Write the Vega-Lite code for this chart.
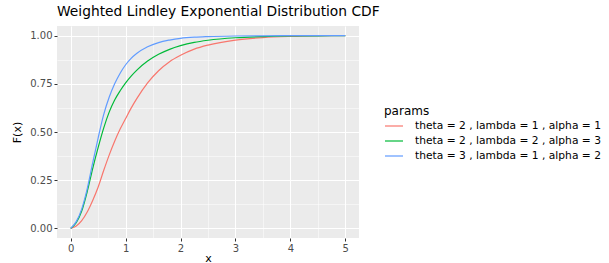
{
  "$schema": "https://vega.github.io/schema/vega-lite/v6.json",
  "width": 302,
  "height": 212,
  "autosize": {"type": "none"},
  "padding": {"left": 57, "top": 26, "right": 250, "bottom": 25},
  "background": "white",
  "config": {
    "font": "DejaVu Sans",
    "view": {"fill": "#EBEBEB", "stroke": null}
  },
  "title": {
    "text": "Weighted Lindley Exponential Distribution CDF",
    "anchor": "start",
    "frame": "group",
    "fontSize": 13.8,
    "fontWeight": "normal",
    "color": "black",
    "offset": 7
  },
  "data": {
    "values": [
      {"x": 0, "F": 0, "params": "theta = 2 , lambda = 1 , alpha = 1"},
      {"x": 0.1, "F": 0.012, "params": "theta = 2 , lambda = 1 , alpha = 1"},
      {"x": 0.2, "F": 0.04, "params": "theta = 2 , lambda = 1 , alpha = 1"},
      {"x": 0.3, "F": 0.085, "params": "theta = 2 , lambda = 1 , alpha = 1"},
      {"x": 0.4, "F": 0.145, "params": "theta = 2 , lambda = 1 , alpha = 1"},
      {"x": 0.5, "F": 0.215, "params": "theta = 2 , lambda = 1 , alpha = 1"},
      {"x": 0.6, "F": 0.3, "params": "theta = 2 , lambda = 1 , alpha = 1"},
      {"x": 0.7, "F": 0.38, "params": "theta = 2 , lambda = 1 , alpha = 1"},
      {"x": 0.8, "F": 0.452, "params": "theta = 2 , lambda = 1 , alpha = 1"},
      {"x": 0.9, "F": 0.515, "params": "theta = 2 , lambda = 1 , alpha = 1"},
      {"x": 1.0, "F": 0.57, "params": "theta = 2 , lambda = 1 , alpha = 1"},
      {"x": 1.1, "F": 0.624, "params": "theta = 2 , lambda = 1 , alpha = 1"},
      {"x": 1.2, "F": 0.672, "params": "theta = 2 , lambda = 1 , alpha = 1"},
      {"x": 1.4, "F": 0.755, "params": "theta = 2 , lambda = 1 , alpha = 1"},
      {"x": 1.6, "F": 0.818, "params": "theta = 2 , lambda = 1 , alpha = 1"},
      {"x": 1.8, "F": 0.865, "params": "theta = 2 , lambda = 1 , alpha = 1"},
      {"x": 2.0, "F": 0.898, "params": "theta = 2 , lambda = 1 , alpha = 1"},
      {"x": 2.25, "F": 0.93, "params": "theta = 2 , lambda = 1 , alpha = 1"},
      {"x": 2.5, "F": 0.951, "params": "theta = 2 , lambda = 1 , alpha = 1"},
      {"x": 3.0, "F": 0.977, "params": "theta = 2 , lambda = 1 , alpha = 1"},
      {"x": 3.5, "F": 0.99, "params": "theta = 2 , lambda = 1 , alpha = 1"},
      {"x": 4.0, "F": 0.996, "params": "theta = 2 , lambda = 1 , alpha = 1"},
      {"x": 4.5, "F": 0.999, "params": "theta = 2 , lambda = 1 , alpha = 1"},
      {"x": 5.0, "F": 1.0, "params": "theta = 2 , lambda = 1 , alpha = 1"},
      {"x": 0, "F": 0, "params": "theta = 2 , lambda = 2 , alpha = 3"},
      {"x": 0.1, "F": 0.03, "params": "theta = 2 , lambda = 2 , alpha = 3"},
      {"x": 0.2, "F": 0.09, "params": "theta = 2 , lambda = 2 , alpha = 3"},
      {"x": 0.3, "F": 0.19, "params": "theta = 2 , lambda = 2 , alpha = 3"},
      {"x": 0.4, "F": 0.31, "params": "theta = 2 , lambda = 2 , alpha = 3"},
      {"x": 0.5, "F": 0.42, "params": "theta = 2 , lambda = 2 , alpha = 3"},
      {"x": 0.6, "F": 0.52, "params": "theta = 2 , lambda = 2 , alpha = 3"},
      {"x": 0.7, "F": 0.603, "params": "theta = 2 , lambda = 2 , alpha = 3"},
      {"x": 0.8, "F": 0.666, "params": "theta = 2 , lambda = 2 , alpha = 3"},
      {"x": 0.9, "F": 0.714, "params": "theta = 2 , lambda = 2 , alpha = 3"},
      {"x": 1.0, "F": 0.755, "params": "theta = 2 , lambda = 2 , alpha = 3"},
      {"x": 1.1, "F": 0.79, "params": "theta = 2 , lambda = 2 , alpha = 3"},
      {"x": 1.2, "F": 0.82, "params": "theta = 2 , lambda = 2 , alpha = 3"},
      {"x": 1.4, "F": 0.868, "params": "theta = 2 , lambda = 2 , alpha = 3"},
      {"x": 1.6, "F": 0.903, "params": "theta = 2 , lambda = 2 , alpha = 3"},
      {"x": 1.8, "F": 0.929, "params": "theta = 2 , lambda = 2 , alpha = 3"},
      {"x": 2.0, "F": 0.948, "params": "theta = 2 , lambda = 2 , alpha = 3"},
      {"x": 2.25, "F": 0.965, "params": "theta = 2 , lambda = 2 , alpha = 3"},
      {"x": 2.5, "F": 0.976, "params": "theta = 2 , lambda = 2 , alpha = 3"},
      {"x": 3.0, "F": 0.989, "params": "theta = 2 , lambda = 2 , alpha = 3"},
      {"x": 3.5, "F": 0.995, "params": "theta = 2 , lambda = 2 , alpha = 3"},
      {"x": 4.0, "F": 0.998, "params": "theta = 2 , lambda = 2 , alpha = 3"},
      {"x": 4.5, "F": 0.999, "params": "theta = 2 , lambda = 2 , alpha = 3"},
      {"x": 5.0, "F": 1.0, "params": "theta = 2 , lambda = 2 , alpha = 3"},
      {"x": 0, "F": 0, "params": "theta = 3 , lambda = 1 , alpha = 2"},
      {"x": 0.1, "F": 0.035, "params": "theta = 3 , lambda = 1 , alpha = 2"},
      {"x": 0.2, "F": 0.1, "params": "theta = 3 , lambda = 1 , alpha = 2"},
      {"x": 0.3, "F": 0.205, "params": "theta = 3 , lambda = 1 , alpha = 2"},
      {"x": 0.4, "F": 0.34, "params": "theta = 3 , lambda = 1 , alpha = 2"},
      {"x": 0.5, "F": 0.47, "params": "theta = 3 , lambda = 1 , alpha = 2"},
      {"x": 0.6, "F": 0.59, "params": "theta = 3 , lambda = 1 , alpha = 2"},
      {"x": 0.7, "F": 0.68, "params": "theta = 3 , lambda = 1 , alpha = 2"},
      {"x": 0.8, "F": 0.75, "params": "theta = 3 , lambda = 1 , alpha = 2"},
      {"x": 0.9, "F": 0.805, "params": "theta = 3 , lambda = 1 , alpha = 2"},
      {"x": 1.0, "F": 0.849, "params": "theta = 3 , lambda = 1 , alpha = 2"},
      {"x": 1.1, "F": 0.882, "params": "theta = 3 , lambda = 1 , alpha = 2"},
      {"x": 1.2, "F": 0.907, "params": "theta = 3 , lambda = 1 , alpha = 2"},
      {"x": 1.4, "F": 0.942, "params": "theta = 3 , lambda = 1 , alpha = 2"},
      {"x": 1.6, "F": 0.964, "params": "theta = 3 , lambda = 1 , alpha = 2"},
      {"x": 1.8, "F": 0.977, "params": "theta = 3 , lambda = 1 , alpha = 2"},
      {"x": 2.0, "F": 0.986, "params": "theta = 3 , lambda = 1 , alpha = 2"},
      {"x": 2.25, "F": 0.992, "params": "theta = 3 , lambda = 1 , alpha = 2"},
      {"x": 2.5, "F": 0.995, "params": "theta = 3 , lambda = 1 , alpha = 2"},
      {"x": 3.0, "F": 0.998, "params": "theta = 3 , lambda = 1 , alpha = 2"},
      {"x": 3.5, "F": 0.999, "params": "theta = 3 , lambda = 1 , alpha = 2"},
      {"x": 4.0, "F": 1.0, "params": "theta = 3 , lambda = 1 , alpha = 2"},
      {"x": 4.5, "F": 1.0, "params": "theta = 3 , lambda = 1 , alpha = 2"},
      {"x": 5.0, "F": 1.0, "params": "theta = 3 , lambda = 1 , alpha = 2"}
    ]
  },
  "mark": {"type": "line", "interpolate": "monotone", "strokeWidth": 1.2},
  "encoding": {
    "x": {
      "field": "x",
      "type": "quantitative",
      "scale": {"domain": [-0.25, 5.25], "nice": false, "zero": false},
      "axis": {
        "values": [0, 0.5, 1, 1.5, 2, 2.5, 3, 3.5, 4, 4.5, 5],
        "format": ".0f",
        "labelExpr": "datum.value % 1 === 0 ? datum.label : ''",
        "grid": true,
        "gridColor": "white",
        "gridWidth": {"condition": {"test": "datum.value % 1 !== 0", "value": 0.5}, "value": 1.1},
        "domain": false,
        "tickColor": "#333333",
        "tickOpacity": {"condition": {"test": "datum.value % 1 !== 0", "value": 0}, "value": 1},
        "tickSize": 3,
        "labelColor": "#4D4D4D",
        "labelFontSize": 10,
        "labelPadding": 2,
        "title": "x",
        "titleFontSize": 11,
        "titleFontWeight": "normal",
        "titleColor": "black",
        "titlePadding": -1
      }
    },
    "y": {
      "field": "F",
      "type": "quantitative",
      "scale": {"domain": [-0.05, 1.05], "nice": false, "zero": false},
      "axis": {
        "values": [0, 0.125, 0.25, 0.375, 0.5, 0.625, 0.75, 0.875, 1],
        "format": ".2f",
        "labelExpr": "(datum.value * 4) % 1 === 0 ? datum.label : ''",
        "grid": true,
        "gridColor": "white",
        "gridWidth": {"condition": {"test": "(datum.value * 4) % 1 !== 0", "value": 0.5}, "value": 1.1},
        "domain": false,
        "tickColor": "#333333",
        "tickOpacity": {"condition": {"test": "(datum.value * 4) % 1 !== 0", "value": 0}, "value": 1},
        "tickSize": 3,
        "labelColor": "#4D4D4D",
        "labelFontSize": 10,
        "labelPadding": 2,
        "title": "F(x)",
        "titleFontSize": 11,
        "titleFontWeight": "normal",
        "titleColor": "black",
        "titlePadding": 7
      }
    },
    "color": {
      "field": "params",
      "type": "nominal",
      "scale": {"range": ["#F8766D", "#00BA38", "#619CFF"]},
      "legend": {
        "orient": "none",
        "legendX": 327,
        "legendY": 80,
        "title": "params",
        "titleFontSize": 12,
        "titleFontWeight": "normal",
        "titleColor": "black",
        "titlePadding": -2,
        "labelFontSize": 10.7,
        "labelColor": "black",
        "labelLimit": 0,
        "labelOffset": 11,
        "symbolType": "stroke",
        "symbolSize": 324,
        "symbolStrokeWidth": 1.2,
        "rowPadding": -2
      }
    }
  }
}
